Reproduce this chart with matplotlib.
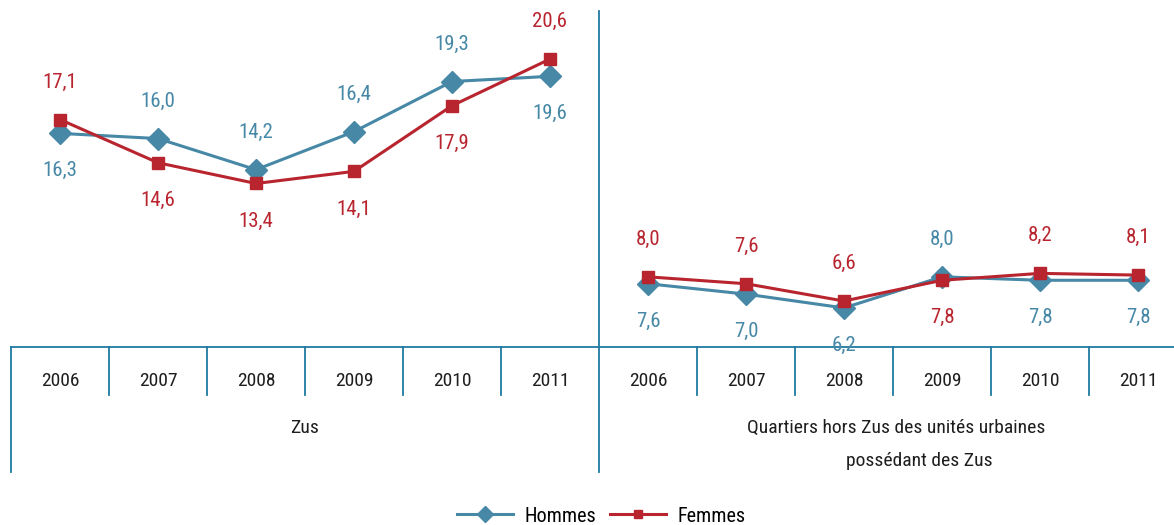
import matplotlib
matplotlib.use("Agg")
import matplotlib.pyplot as plt
import matplotlib.transforms as mtransforms

plt.rcParams['font.family'] = ['Roboto Condensed', 'DejaVu Sans']

# data
years = ["2006", "2007", "2008", "2009", "2010", "2011"]
groups = ["Zus", "Quartiers hors Zus des unités urbaines"]
group2_line2 = "possédant des Zus"
hommes_zus = [16.3, 16.0, 14.2, 16.4, 19.3, 19.6]
femmes_zus = [17.1, 14.6, 13.4, 14.1, 17.9, 20.6]
hommes_hz = [7.6, 7.0, 6.2, 8.0, 7.8, 7.8]
femmes_hz = [8.0, 7.6, 6.6, 7.8, 8.2, 8.1]

# label placement (+1 above, -1 below)
hommes_zus_pos = [-1, 1, 1, 1, 1, -1]
femmes_zus_pos = [1, -1, -1, -1, -1, 1]
hommes_hz_pos = [-1, -1, -1, 1, -1, -1]
femmes_hz_pos = [1, 1, 1, -1, 1, 1]

BLUE = "#4688a6"
RED = "#b8252f"
AXIS = "#1f7ba2"
TXT = "#1e1e1e"

W, H = 1174, 525
fig = plt.figure(figsize=(W / 100, H / 100), dpi=100)
ax = fig.add_axes([11 / W, 1 - 347 / H, (W - 11) / W, 336 / H])
ax.set_xlim(-0.5, -0.5 + (W - 11) / 98)
ax.set_ylim(3.94, 23.38)
ax.axis("off")


def draw(xs, vals, pos, color, marker, ms, label=None):
    ax.plot(xs, vals, color=color, lw=2.2, marker=marker, ms=ms,
            label=label, clip_on=False, zorder=3)
    for x, v, p in zip(xs, vals, pos):
        ax.annotate(f"{v:.1f}".replace(".", ","), (x, v),
                    xytext=(0, 27 * p), textcoords="offset points",
                    ha="center", va="center", color=color, fontsize=15)


x1 = list(range(6))
x2 = [i + 6 for i in range(6)]
draw(x1, hommes_zus, hommes_zus_pos, BLUE, "D", 11.5, "Hommes")
draw(x1, femmes_zus, femmes_zus_pos, RED, "s", 8.5, "Femmes")
draw(x2, hommes_hz, hommes_hz_pos, BLUE, "D", 11.5)
draw(x2, femmes_hz, femmes_hz_pos, RED, "s", 8.5)

# category table under the plot
trans = mtransforms.blended_transform_factory(ax.transData, ax.transAxes)
ax.plot([-0.5, 12], [0, 0], color=AXIS, lw=1.3, transform=trans, clip_on=False)
for b in range(13):
    xb = b - 0.5
    if b in (0, 6):
        top = 1.0 if b == 6 else 0.0
        ax.plot([xb, xb], [top, -0.372], color=AXIS, lw=1.3,
                transform=trans, clip_on=False)
    else:
        ax.plot([xb, xb], [0, -0.143], color=AXIS, lw=1.3,
                transform=trans, clip_on=False)

for i in range(12):
    ax.text(i, -0.101, years[i % 6], transform=trans, ha="center",
            va="center", fontsize=14, color=TXT)

ax.text(2.5, -0.241, groups[0], transform=trans, ha="center", va="center",
        fontsize=14, color=TXT)
ax.text(8.53, -0.241, groups[1], transform=trans, ha="center", va="center",
        fontsize=14, color=TXT)
ax.text(8.77, -0.34, group2_line2, transform=trans, ha="center", va="center",
        fontsize=14, color=TXT)

fig.legend(loc="center", bbox_to_anchor=(0.512, 1 - 516 / H), ncol=2,
           frameon=False, fontsize=14.5, handlelength=2.8, columnspacing=0.7,
           handletextpad=0.55, markerscale=0.75)

fig.savefig("out.png", dpi=100)
